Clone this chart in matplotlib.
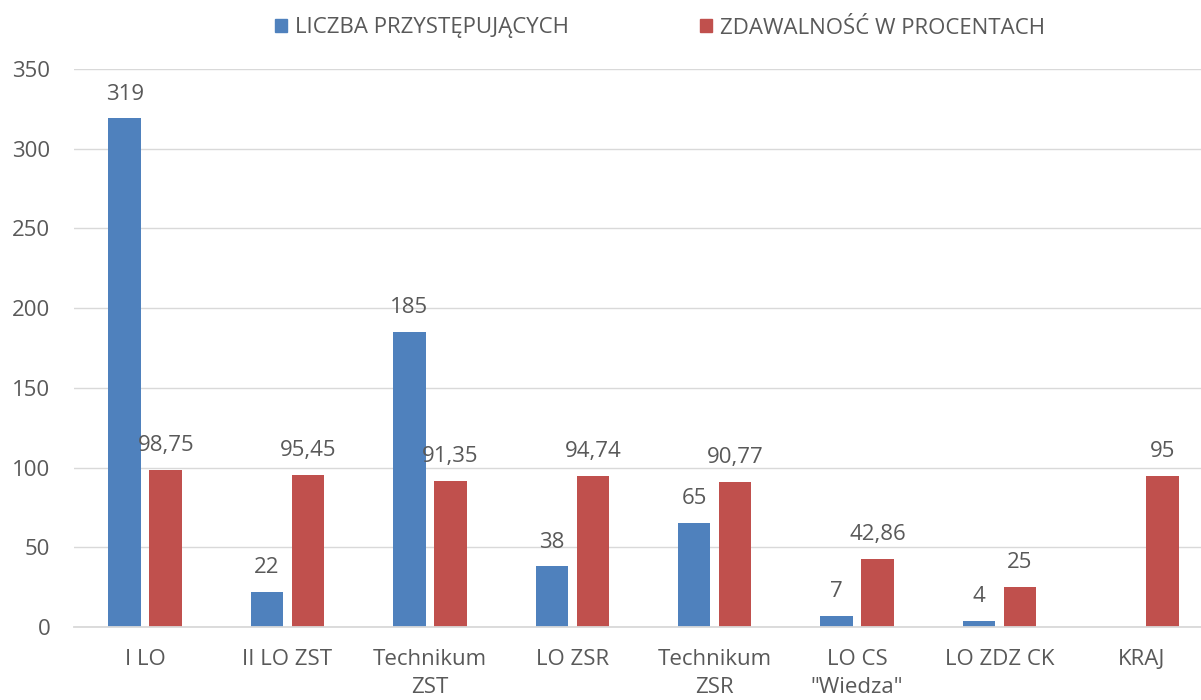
import numpy as np
import matplotlib
matplotlib.use("Agg")
import matplotlib.pyplot as plt
from matplotlib.patches import Patch

categories = ["I LO", "II LO ZST", "Technikum\nZST", "LO ZSR", "Technikum\nZSR",
              "LO CS\n\"Wiedza\"", "LO ZDZ CK", "KRAJ"]
liczba = [319, 22, 185, 38, 65, 7, 4, np.nan]
zdawalnosc = [98.75, 95.45, 91.35, 94.74, 90.77, 42.86, 25, 95]
series_names = ["LICZBA PRZYSTĘPUJĄCYCH", "ZDAWALNOŚĆ W PROCENTACH"]
yticks = [0, 50, 100, 150, 200, 250, 300, 350]

BLUE = "#4F81BD"
RED = "#C0504D"
TXT = "#595959"
GRID = "#D9D9D9"
FS = 16

plt.rcParams['font.family'] = ['Open Sans', 'DejaVu Sans']

fig = plt.figure(figsize=(12.01, 7.00), dpi=100)
ax = fig.add_axes([74/1201, 1-627/700, (1213-74)/1201, (627-69)/700])

x = np.arange(len(categories))
w = 0.228
off = 0.144
ax.bar(x - off, liczba, w, color=BLUE, zorder=3)
ax.bar(x + off, zdawalnosc, w, color=RED, zorder=3)

def fmt(v):
    return f"{v:g}".replace('.', ',')

for xi, v in zip(x, liczba):
    if not np.isnan(v):
        ax.annotate(fmt(v), (xi - off, v), xytext=(0, 10), textcoords='offset points',
                    ha='center', va='bottom', fontsize=FS, color=TXT)
for xi, v in zip(x, zdawalnosc):
    ax.annotate(fmt(v), (xi + off, v), xytext=(0, 10), textcoords='offset points',
                ha='center', va='bottom', fontsize=FS, color=TXT)

ax.set_xlim(-0.5, len(categories) - 0.5)
ax.set_ylim(0, 350)
ax.set_yticks(yticks)
ax.set_xticks(x)
ax.set_xticklabels(categories, linespacing=1.4)
ax.tick_params(axis='both', length=0, labelsize=FS, labelcolor=TXT)
ax.tick_params(axis='x', pad=16)
ax.tick_params(axis='y', pad=17)
ax.yaxis.grid(True, color=GRID, linewidth=1.0, zorder=0)
for s in ['top', 'right', 'left']:
    ax.spines[s].set_visible(False)
ax.spines['bottom'].set_color(GRID)
ax.spines['bottom'].set_linewidth(1.3)
ax.spines['bottom'].set_zorder(4)

handles = [Patch(color=BLUE), Patch(color=RED)]
fig.legend(handles, series_names, loc='center', bbox_to_anchor=(660/1201, 1-28/700),
           ncol=2, frameon=False, fontsize=FS, labelcolor=TXT,
           handlelength=0.55, handleheight=0.55, handletextpad=0.35, columnspacing=5.9)

fig.savefig("out.png", dpi=100)
